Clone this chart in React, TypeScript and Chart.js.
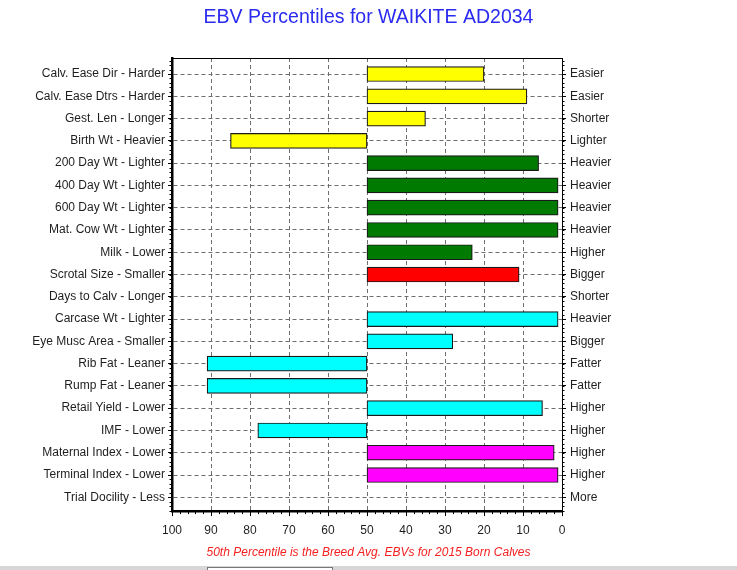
import { useEffect, useRef } from 'react'
import Chart, { type ChartConfiguration } from 'chart.js/auto'

const FONT = 'Arial, "Liberation Sans", sans-serif'

// trait labels: low-percentile side (left) / high side (right)
const TRAITS = [
  'Calv. Ease Dir - Harder',
  'Calv. Ease Dtrs - Harder',
  'Gest. Len - Longer',
  'Birth Wt - Heavier',
  '200 Day Wt - Lighter',
  '400 Day Wt - Lighter',
  '600 Day Wt - Lighter',
  'Mat. Cow Wt - Lighter',
  'Milk - Lower',
  'Scrotal Size - Smaller',
  'Days to Calv - Longer',
  'Carcase Wt - Lighter',
  'Eye Musc Area - Smaller',
  'Rib Fat - Leaner',
  'Rump Fat - Leaner',
  'Retail Yield - Lower',
  'IMF - Lower',
  'Maternal Index - Lower',
  'Terminal Index - Lower',
  'Trial Docility - Less',
]
const RIGHT_LABELS = [
  'Easier', 'Easier', 'Shorter', 'Lighter', 'Heavier', 'Heavier', 'Heavier', 'Heavier', 'Higher', 'Bigger',
  'Shorter', 'Heavier', 'Bigger', 'Fatter', 'Fatter', 'Higher', 'Higher', 'Higher', 'Higher', 'More',
]
// percentile band for each trait (bars start at the 50th = breed average)
const PERCENTILES: (number | null)[] = [20, 9, 35, 85, 6, 1, 1, 1, 23, 11, null, 1, 28, 91, 91, 5, 78, 2, 1, null]
const GROUPS = [
  'calving', 'calving', 'calving', 'calving', 'growth', 'growth', 'growth', 'growth', 'growth', 'fertility',
  'fertility', 'carcase', 'carcase', 'carcase', 'carcase', 'carcase', 'carcase', 'index', 'index', 'temperament',
]
const BASE = 50

const GROUP_COLOR: Record<string, string> = {
  calving: '#ffff00',
  growth: '#007a00',
  fertility: '#ff0000',
  carcase: '#00ffff',
  index: '#ff00ff',
  temperament: '#cccccc',
}

// row axis range: a little more room above the first row than below the last
const ROW_MIN = -0.72
const ROW_MAX = TRAITS.length - 1 + 0.62
const X_MINOR = 2 // minor tick step on the percentile axis
const ROW_MINOR = 0.2 // minor tick step on the row axes

// 차트 영역 위쪽 얇은 테두리 + 세 축의 보조 눈금
const framePlugin = {
  id: 'frame',
  afterDraw(chart: Chart) {
    const { ctx, chartArea: a, scales } = chart
    ctx.save()
    ctx.strokeStyle = '#000'
    ctx.lineWidth = 1
    ctx.beginPath()
    ctx.moveTo(a.left, a.top + 0.5)
    ctx.lineTo(a.right, a.top + 0.5)
    for (let v = 0; v <= 100; v += X_MINOR) {
      const px = Math.round(scales.x.getPixelForValue(v)) + 0.5
      ctx.moveTo(px, a.bottom)
      ctx.lineTo(px, a.bottom + 3)
    }
    for (let v = Math.ceil(ROW_MIN / ROW_MINOR) * ROW_MINOR; v <= ROW_MAX; v += ROW_MINOR) {
      const py = Math.round(scales.y.getPixelForValue(v)) + 0.5
      ctx.moveTo(a.left - 2.5, py)
      ctx.lineTo(a.left, py)
      ctx.moveTo(a.right, py)
      ctx.lineTo(a.right + 2.5, py)
    }
    ctx.stroke()
    ctx.restore()
  },
}

// bar 기본값(offset: true)이 linear 행 축에 붙지 않게 명시
const rowAxis = (labels: string[], position: 'left' | 'right') => ({
  type: 'linear',
  position,
  min: ROW_MIN,
  max: ROW_MAX,
  reverse: true,
  offset: false,
  ticks: {
    stepSize: 1,
    includeBounds: false,
    autoSkip: false,
    color: '#1e1e1e',
    padding: position === 'left' ? 3 : 4,
    font: { family: FONT, size: 12 },
    callback: (v: number) => labels[v] ?? '',
  },
})

export default function App() {
  const canvasRef = useRef<HTMLCanvasElement>(null)

  useEffect(() => {
    const canvas = canvasRef.current
    if (!canvas) return
    const config = {
      type: 'bar',
      data: {
        datasets: [
          {
            data: PERCENTILES.map((v, i) => ({ y: i, x: v == null ? null : [BASE, v] })),
            backgroundColor: GROUPS.map((g) => GROUP_COLOR[g]),
            borderColor: '#1a1a1a',
            borderWidth: 1.2,
            borderSkipped: false,
            barThickness: 15,
          },
        ],
      },
      options: {
        indexAxis: 'y',
        animation: false,
        responsive: true,
        maintainAspectRatio: false,
        layout: { padding: 0 },
        plugins: {
          legend: { display: false },
          tooltip: { enabled: false },
          title: {
            display: true,
            text: 'EBV Percentiles for WAIKITE AD2034',
            color: '#2a2af0',
            font: { family: FONT, size: 19.5, weight: 'normal' },
            padding: { top: 6, bottom: 28.6 },
          },
          subtitle: {
            display: true,
            position: 'bottom',
            text: '50th Percentile is the Breed Avg. EBVs for 2015 Born Calves',
            color: '#f52020',
            font: { family: FONT, size: 12, style: 'italic' },
            padding: { top: 0, bottom: 10 },
          },
        },
        scales: {
          x: {
            type: 'linear',
            min: 0,
            max: 100,
            reverse: true,
            afterFit: (s: { height: number }) => { s.height = 34.5 },
            ticks: { stepSize: 10, color: '#1e1e1e', padding: 7, font: { family: FONT, size: 12 } },
            grid: { color: '#6e6e6e', tickColor: '#000', tickLength: 5 },
            border: { display: true, color: '#000', width: 2.5, dash: [4, 3] },
          },
          y: {
            ...rowAxis(TRAITS, 'left'),
            afterFit: (s: { width: number }) => { s.width = 172 },
            grid: { offset: false, color: '#6e6e6e', tickColor: '#000', tickLength: 4 },
            border: { display: true, color: '#000', width: 2.5, dash: [4, 3] },
          },
          y2: {
            ...rowAxis(RIGHT_LABELS, 'right'),
            afterFit: (s: { width: number }) => { s.width = 175 },
            grid: { offset: false, drawOnChartArea: false, tickColor: '#000', tickLength: 4 },
            border: { display: true, color: '#000', width: 1 },
          },
        },
      },
      plugins: [framePlugin],
    } as unknown as ChartConfiguration

    const chart = new Chart(canvas, config)
    return () => chart.destroy()
  }, [])

  return (
    <div style={{ position: 'absolute', left: 0, top: 0, width: 737, height: 570, background: '#fff' }}>
      <canvas ref={canvasRef} />
      <div style={{ position: 'absolute', left: 0, top: 566, width: 737, height: 4, background: '#d6d6d6' }}>
        <div style={{ position: 'absolute', left: 207, top: 1, width: 126, height: 3, background: '#fff', border: '1px solid #777', borderBottom: 'none', boxSizing: 'border-box' }} />
      </div>
    </div>
  )
}
